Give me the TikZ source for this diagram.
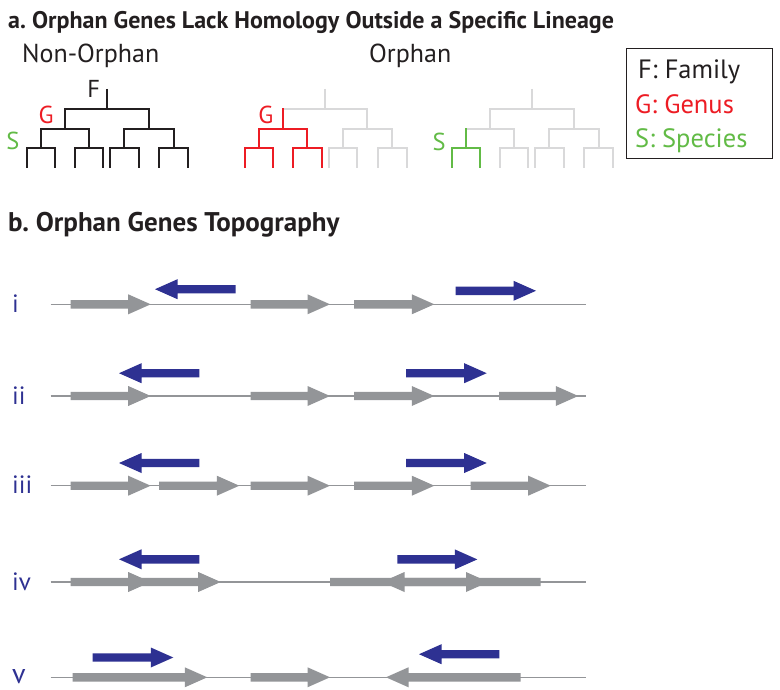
\documentclass[tikz,border=0pt]{standalone}
\usepackage{fontspec}
\setmainfont{PT Sans}
\definecolor{txtblack}{HTML}{231F20}
\definecolor{myred}{HTML}{ED1C24}
\definecolor{mygreen}{HTML}{62BB46}
\definecolor{myblue}{HTML}{2E3192}
\definecolor{arrgray}{HTML}{939598}
\definecolor{treegray}{HTML}{D9D9DA}
\newcommand\GeneArr[4]{%
  \pgfmathsetmacro\gbase{(#3>#2) ? (#3-22.5) : (#3+22.5)}%
  \fill[#1] (#2,#4-4.2) -- (\gbase,#4-4.2) -- (\gbase,#4-10) -- (#3,#4) -- (\gbase,#4+10) -- (\gbase,#4+4.2) -- (#2,#4+4.2) -- cycle;}
\begin{document}
\begin{tikzpicture}[x=1pt,y=-1pt,
  tree/.style={line width=2pt, line join=miter, line cap=butt},
  lbl/.style={inner sep=0pt, anchor=base, font=\fontsize{24.5}{28}\selectfont},
  head/.style={inner sep=0pt, anchor=base west, font=\fontsize{26}{30}\selectfont},
  leg/.style={inner sep=0pt, anchor=base west, font=\fontsize{26.5}{30}\selectfont},
  ttl/.style={inner sep=0pt, anchor=base west, text=txtblack, font=\fontsize{24}{28}\selectfont\bfseries},
  rowlbl/.style={inner sep=0pt, anchor=base west, text=myblue, font=\fontsize{25}{30}\selectfont},
  genome/.style={draw=arrgray, line width=1.2pt},
  grayarr/.style={fill=arrgray},
  bluearr/.style={fill=myblue}]
\useasboundingbox[fill=white] (0,0) rectangle (780,690);

% titles
\node[ttl] (ta) at (8,29) {a.\ Orphan Genes Lack Homology Outside a Specific Lineage};
\node[ttl, font=\fontsize{27}{30}\selectfont\bfseries] (tb) at (8,232) {b.\ Orphan Genes Topography};
\node[head, text=txtblack] (nonorph) at (22,63) {Non-Orphan};
\node[head, text=txtblack] (orph) at (369,63) {Orphan};

% non-orphan tree (black)
\begin{scope}[tree, draw=txtblack]
\draw (106.7,89) -- (106.7,109);
\draw (64.6,129) -- (64.6,109) -- (148.9,109) -- (148.9,129);
\draw (40.5,148.5) -- (40.5,129) -- (88.75,129) -- (88.75,148.5);
\draw (124.25,148.5) -- (124.25,129) -- (173.5,129) -- (173.5,148.5);
\draw (26.5,168) -- (26.5,148.5) -- (54.5,148.5) -- (54.5,168);
\draw (74.5,168) -- (74.5,148.5) -- (103,148.5) -- (103,168);
\draw (110,168) -- (110,148.5) -- (138.5,148.5) -- (138.5,168);
\draw (159,168) -- (159,148.5) -- (188,148.5) -- (188,168);
\end{scope}
\node[lbl, text=txtblack] (F) at (93.8,97.3) {F};
\node[lbl, text=myred] (G1) at (46,124) {G};
\node[lbl, text=mygreen] (S1) at (13,150) {S};

% orphan tree 1 (genus, red)
\begin{scope}[xshift=218.5pt, tree]
\draw[treegray] (106.7,89) -- (106.7,109);
\draw[treegray] (64.6,109) -- (148.9,109) -- (148.9,129);
\draw[treegray] (124.25,148.5) -- (124.25,129) -- (173.5,129) -- (173.5,148.5);
\draw[treegray] (110,168) -- (110,148.5) -- (138.5,148.5) -- (138.5,168);
\draw[treegray] (159,168) -- (159,148.5) -- (188,148.5) -- (188,168);
\draw[myred] (64.6,129) -- (64.6,108);
\draw[myred] (40.5,148.5) -- (40.5,129) -- (88.75,129) -- (88.75,148.5);
\draw[myred] (26.5,168) -- (26.5,148.5) -- (54.5,148.5) -- (54.5,168);
\draw[myred] (74.5,168) -- (74.5,148.5) -- (103,148.5) -- (103,168);
\end{scope}
\node[lbl, text=myred] (G2) at (265.8,124) {G};

% orphan tree 2 (species, green)
\begin{scope}[xshift=425pt, tree]
\draw[treegray] (106.7,89) -- (106.7,109);
\draw[treegray] (64.6,129) -- (64.6,109) -- (148.9,109) -- (148.9,129);
\draw[treegray] (40.5,129) -- (88.75,129) -- (88.75,148.5);
\draw[treegray] (124.25,148.5) -- (124.25,129) -- (173.5,129) -- (173.5,148.5);
\draw[treegray] (74.5,168) -- (74.5,148.5) -- (103,148.5) -- (103,168);
\draw[treegray] (110,168) -- (110,148.5) -- (138.5,148.5) -- (138.5,168);
\draw[treegray] (159,168) -- (159,148.5) -- (188,148.5) -- (188,168);
\draw[mygreen] (40.5,148.5) -- (40.5,128);
\draw[mygreen] (26.5,168) -- (26.5,148.5) -- (54.5,148.5) -- (54.5,168);
\end{scope}
\node[lbl, text=mygreen] (S2) at (439.2,151) {S};

% legend
\node[draw=txtblack, line width=1pt, minimum width=146pt, minimum height=110pt, anchor=north west, inner sep=0pt] (legend) at (626,48) {};
\node[leg, text=txtblack] (lf) at (638,79) {F: Family};
\node[leg, text=myred] (lg) at (635,114) {G: Genus};
\node[leg, text=mygreen] (ls) at (635,147.5) {S: Species};

% genome rows
\foreach \y/\n in {304.3/a, 396/b, 485.7/c, 582/d, 677.3/e} {
  \coordinate (s\n) at (50.7,\y);
  \coordinate (e\n) at (585.7,\y);
  \draw[genome] (s\n) -- (e\n);
}
\node[rowlbl] (ri) at (12,312.3) {i};
\node[rowlbl] (rii) at (12,404) {ii};
\node[rowlbl] (riii) at (12,493.7) {iii};
\node[rowlbl] (riv) at (12,590) {iv};
\node[rowlbl, font=\fontsize{28}{32}\selectfont] (rv) at (12,683) {v};

% row i
\GeneArr{grayarr}{70.7}{150.7}{304.3}
\GeneArr{grayarr}{250.7}{330}{304.3}
\GeneArr{grayarr}{354}{434.3}{304.3}
\GeneArr{bluearr}{235.7}{155}{289.2}
\GeneArr{bluearr}{455.7}{536}{290.8}
% row ii
\GeneArr{grayarr}{70.7}{150.7}{396}
\GeneArr{grayarr}{250.7}{330}{396}
\GeneArr{grayarr}{354}{434.3}{396}
\GeneArr{grayarr}{499}{578.3}{396}
\GeneArr{bluearr}{199.3}{119}{373.2}
\GeneArr{bluearr}{406}{486.7}{373.2}
% row iii
\GeneArr{grayarr}{70.7}{150.7}{485.7}
\GeneArr{grayarr}{159}{239.3}{485.7}
\GeneArr{grayarr}{250.7}{330}{485.7}
\GeneArr{grayarr}{354}{434.3}{485.7}
\GeneArr{grayarr}{470.7}{550.7}{485.7}
\GeneArr{bluearr}{199.3}{119}{463}
\GeneArr{bluearr}{406}{486.7}{463}
% row iv
\GeneArr{grayarr}{70.7}{150.7}{582}
\GeneArr{grayarr}{140}{220.7}{582}
\GeneArr{grayarr}{330}{488.5}{582}
\GeneArr{grayarr}{540.7}{382}{582}
\GeneArr{bluearr}{199.3}{119}{559.3}
\GeneArr{bluearr}{397.3}{477.3}{559.4}
% row v
\GeneArr{grayarr}{72.7}{207.3}{677.3}
\GeneArr{grayarr}{250.7}{330}{677.3}
\GeneArr{grayarr}{520.7}{386}{677.3}
\GeneArr{bluearr}{92.7}{173.3}{657.5}
\GeneArr{bluearr}{499.3}{419}{654.2}
\end{tikzpicture}
\end{document}
